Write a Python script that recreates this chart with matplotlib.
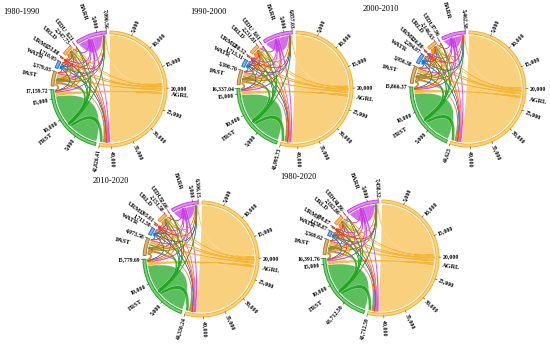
import numpy as np
import matplotlib.pyplot as plt
from matplotlib.path import Path
from matplotlib.patches import PathPatch, Wedge

plt.rcParams['font.family'] = ['Liberation Serif', 'DejaVu Serif']

# land-use classes, in clockwise order starting at 12 o'clock
classes = ['AGRL', 'FRST', 'PAST', 'WATR', 'URML', 'URLD', 'UIDU', 'BARR']
colors = ['#F6B128', '#1DA51D', '#B27B1F', '#1C74E0', '#FF3A12', '#F28A1A', '#FF5FA8', '#C93BE6']
# opacity of the "unchanged" ribbons
stay_alpha = [0.6, 0.72, 0.65, 0.8, 0.8, 0.65, 0.8, 0.75]

periods = ['1980-1990', '1990-2000', '2000-2010', '2010-2020', '1980-2020']

# sector totals (end labels of each sector)
totals_8090 = [42826.41, 17159.72, 3379.03, 1710.05, 253.88, 2347.73, 8.21, 7090.56]
totals_9000 = [43995.73, 16337.04, 3390.70, 1713.31, 280.52, 2231.81, 8.61, 6857.03]
totals_0010 = [44623.00, 15866.37, 3956.38, 2294.97, 236.80, 2146.63, 17.96, 5462.38]
totals_1020 = [44330.24, 15779.69, 4073.58, 1711.59, 365.01, 2151.58, 52.66, 6306.15]
totals_8020 = [43712.59, 16391.76, 3569.62, 1158.87, 290.87, 2182.86, 41.86, 7458.32]

# unchanged area (self links) per period
stay_8090 = [18640, 7030, 255, 445, 35, 370, 0, 2625]
stay_9000 = [19230, 6625, 262, 448, 49, 317, 0, 2513]
stay_0010 = [19544, 6390, 545, 739, 27, 275, 5, 1816]
stay_1020 = [19398, 6347, 604, 447, 91, 277, 22, 2238]
stay_8020 = [19089, 6653, 352, 171, 54, 293, 17, 2814]

# conversions between classes (row = from, column = to), estimated
change = [
    [0, 900, 900, 250, 60, 500, 3, 400],
    [700, 0, 400, 60, 20, 200, 1, 150],
    [700, 300, 0, 50, 20, 150, 1, 100],
    [150, 50, 40, 0, 5, 30, 0, 80],
    [20, 5, 5, 2, 0, 20, 0, 5],
    [350, 100, 100, 20, 15, 0, 1, 50],
    [1, 0, 0, 0, 0, 1, 0, 0],
    [600, 200, 100, 80, 5, 60, 0, 0],
]

all_totals = [totals_8090, totals_9000, totals_0010, totals_1020, totals_8020]
all_stay = [stay_8090, stay_9000, stay_0010, stay_1020, stay_8020]

# panel centres (pixels, from top-left) and title anchors
centres = [(109, 89), (295, 89), (468, 89), (201, 259), (381, 258)]
title_xy = [(3, 12), (190, 12), (363, 9), (93, 181), (280, 177)]
R = 58
GAP = 3.8
H = 346

# odd label in the last panel (tick at 5,000 on FRST shows the AGRL total)
tick_override = {(4, 1, 5000): '43,712.59'}


def pol(cx, cy, r, a):
    t = np.radians(a)
    return cx + r * np.cos(t), cy + r * np.sin(t)


def arc(cx, cy, r, a1, a2):
    n = int(abs(a2 - a1) / 1.5) + 2
    t = np.radians(np.linspace(a1, a2, n))
    return list(zip(cx + r * np.cos(t), cy + r * np.sin(t)))


def ctrl(cx, cy, r, a, b):
    d = abs(a - b) % 360
    d = min(d, 360 - d)
    h = np.radians(d / 2)
    cr = max(r * np.cos(h) - 2 * r * np.sin(h), 0)
    vx = np.cos(np.radians(a)) + np.cos(np.radians(b))
    vy = np.sin(np.radians(a)) + np.sin(np.radians(b))
    n = np.hypot(vx, vy)
    if n < 1e-9:
        return cx, cy
    return cx + cr * vx / n, cy + cr * vy / n


def ribbon(ax, cx, cy, r, a1, a2, b1, b2, color, alpha, z, thin):
    verts, codes = [], []
    p = arc(cx, cy, r, a1, a2)
    verts += p
    codes += [Path.MOVETO] + [Path.LINETO] * (len(p) - 1)
    verts += [ctrl(cx, cy, r, a2, b1), pol(cx, cy, r, b1)]
    codes += [Path.CURVE3, Path.CURVE3]
    p = arc(cx, cy, r, b1, b2)
    verts += p[1:]
    codes += [Path.LINETO] * (len(p) - 1)
    verts += [ctrl(cx, cy, r, b2, a1), pol(cx, cy, r, a1), pol(cx, cy, r, a1)]
    codes += [Path.CURVE3, Path.CURVE3, Path.CLOSEPOLY]
    if thin:
        patch = PathPatch(Path(verts, codes), fc=color, ec=color, lw=0.35,
                          alpha=alpha, zorder=z)
    else:
        patch = PathPatch(Path(verts, codes), fc=color, ec='white', lw=0.2,
                          alpha=alpha, zorder=z)
    ax.add_patch(patch)


def radial_text(ax, cx, cy, r, a, s, size, bold=True):
    a = (a + 180) % 360 - 180
    x, y = pol(cx, cy, r, a)
    if -90 <= a <= 90:
        rot, ha = a, 'left'
    else:
        rot, ha = a - 180, 'right'
    ax.text(x, y, s, rotation=rot, rotation_mode='anchor', ha=ha, va='center',
            fontsize=size, fontweight='bold' if bold else 'normal', zorder=5)


fig = plt.figure(figsize=(5.5, 3.46), dpi=100)
ax = fig.add_axes([0, 0, 1, 1])
ax.set_xlim(0, 550)
ax.set_ylim(0, H)
ax.set_aspect('equal')
ax.axis('off')

n = len(classes)
for pi in range(len(periods)):
    tot = all_totals[pi]
    stay = all_stay[pi]
    cx, cy = centres[pi][0], H - centres[pi][1]
    scale = (360 - n * GAP) / sum(tot)

    starts = []
    a = 89.0
    for k in range(n):
        starts.append(a)
        a = a - tot[k] * scale - GAP

    def ang(k, p):
        return starts[k] - p * scale

    # slots inside each sector: self out, out to others, self in, in from others
    out_slot, in_slot = {}, {}
    for k in range(n):
        c = 0.0
        out_slot[(k, k)] = (c, c + stay[k]); c += stay[k]
        order = [(k - s) % n for s in range(1, n)]
        for j in order:
            out_slot[(k, j)] = (c, c + change[k][j]); c += change[k][j]
        in_slot[(k, k)] = (c, c + stay[k]); c += stay[k]
        for j in order:
            in_slot[(j, k)] = (c, c + change[j][k]); c += change[j][k]

    links = []
    for i in range(n):
        for j in range(n):
            v = stay[i] if i == j else change[i][j]
            if v > 0:
                links.append((v, i, j))
    links.sort(reverse=True)
    rc = R * 0.925
    for z, (v, i, j) in enumerate(links):
        s0, s1 = out_slot[(i, j)]
        t0, t1 = in_slot[(i, j)]
        if i == j:
            alpha, thin = stay_alpha[i], False
        else:
            alpha, thin = 0.85, v < 400
        ribbon(ax, cx, cy, rc, ang(i, s0), ang(i, s1), ang(j, t0), ang(j, t1),
               colors[i], alpha, 1 + z * 0.001, thin)

    # outer ring, ticks and labels
    for k in range(n):
        a0, a1 = starts[k], ang(k, tot[k])
        ax.add_patch(Wedge((cx, cy), R, a1, a0, width=R * 0.05, fc=colors[k],
                           ec='none', alpha=0.55, zorder=3))
        ax.add_patch(Wedge((cx, cy), R, a1, a0, width=R * 0.05, fc='none',
                           ec=colors[k], lw=0.7, zorder=3))
        ticks = [t for t in range(5000, int(tot[k]), 5000) if tot[k] - t > 1000]
        for t in ticks:
            ta = ang(k, t)
            x0, y0 = pol(cx, cy, R, ta)
            x1, y1 = pol(cx, cy, R * 1.035, ta)
            ax.plot([x0, x1], [y0, y1], color='#333333', lw=0.4, zorder=4)
            label = tick_override.get((pi, k, t), f'{t:,}')
            radial_text(ax, cx, cy, R * 1.06, ta, label, 4.2)
        x0, y0 = pol(cx, cy, R, a1)
        x1, y1 = pol(cx, cy, R * 1.035, a1)
        ax.plot([x0, x1], [y0, y1], color='#333333', lw=0.4, zorder=4)
        if tot[k] == int(tot[k]):
            end_label = f'{int(tot[k]):,}'
        else:
            end_label = f'{tot[k]:,.2f}'
        radial_text(ax, cx, cy, R * 1.05, a1, end_label, 4.1)
        mid = ang(k, tot[k] / 2)
        radial_text(ax, cx, cy, R * (1.07 if k == 0 else 1.25), mid, classes[k], 4.6)

    tx, ty = title_xy[pi]
    ax.text(tx, H - ty, periods[pi], fontsize=6, ha='left', va='center')

fig.savefig('out.png', dpi=100)
